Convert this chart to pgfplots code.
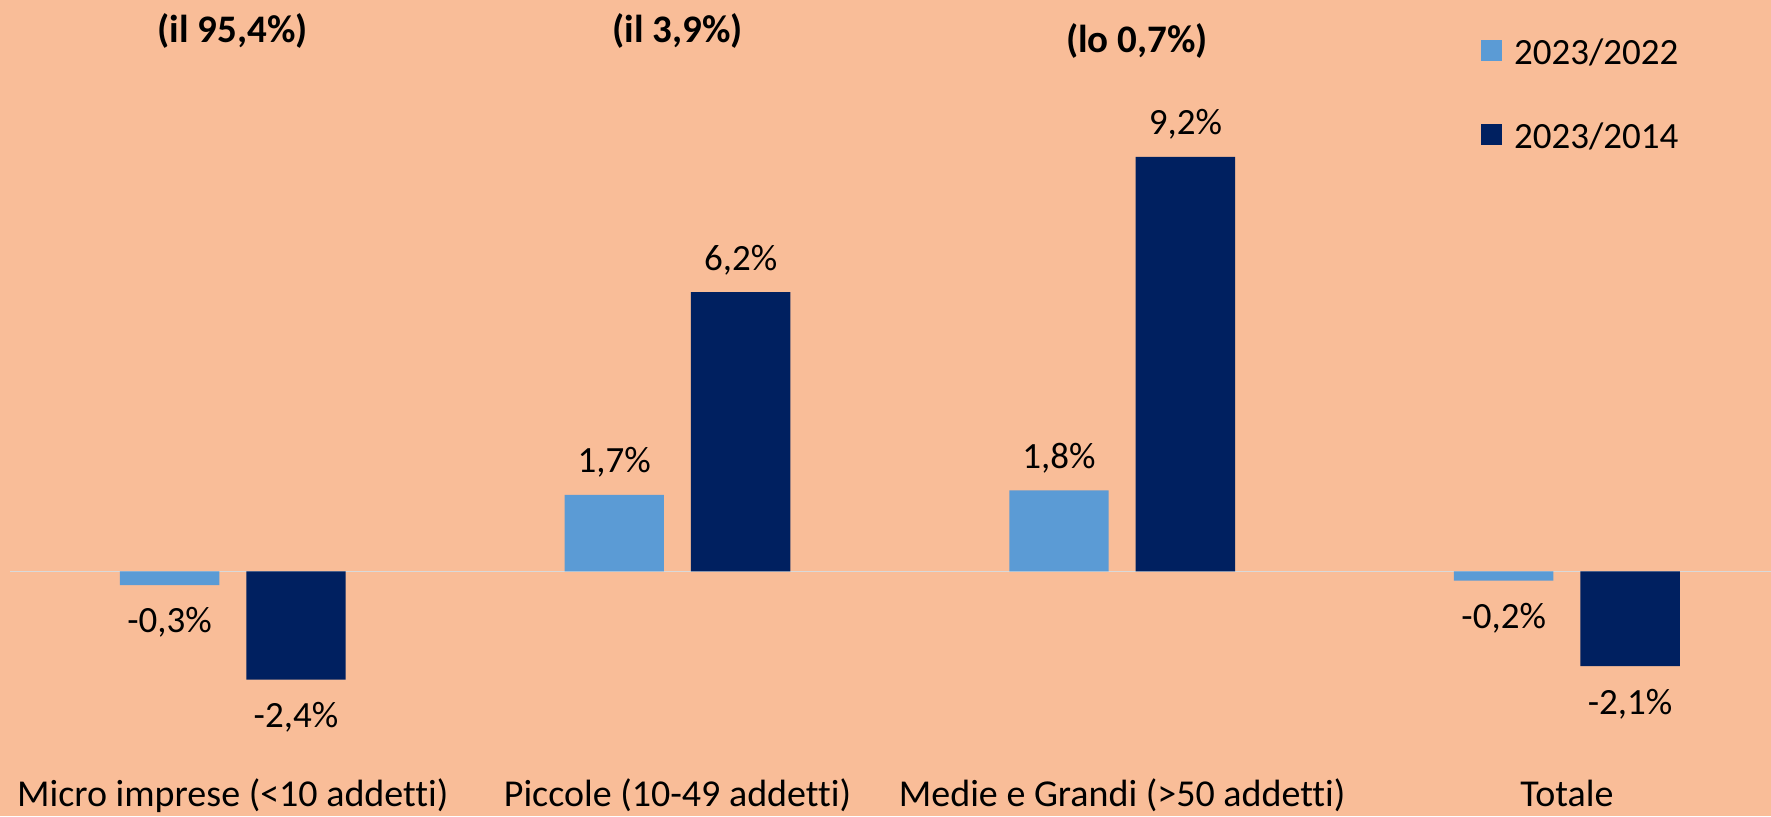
\documentclass[border=0pt]{standalone}
\usepackage{fontspec}
\setmainfont{Carlito}[Ligatures=NoCommon]
\usepackage{pgfplots}
\pgfplotsset{compat=1.18}
\definecolor{bg}{HTML}{F9BD98}
\definecolor{lb}{HTML}{5B9BD5}
\definecolor{db}{HTML}{002060}
\definecolor{zl}{HTML}{D9D9D9}
\begin{document}
\begin{tikzpicture}[x=1pt,y=1pt]
\fill[bg] (0,0) rectangle (885.5,408);
\useasboundingbox (0,0) rectangle (885.5,408);
\begin{axis}[
  at={(0pt,0pt)}, anchor=south west,
  scale only axis, width=885.5pt, height=408pt,
  xmin=-0.5234, xmax=3.459, ymin=-5.425, ymax=12.68,
  axis line style={draw=none},
  major tick length=0pt,
  ytick=\empty,
  xtick={0,1,2,3},
  xticklabels={Micro imprese (<10 addetti),Piccole (10-49 addetti),Medie e Grandi (>50 addetti),Totale},
  xticklabel style={anchor=base, yshift=5pt, font=\fontsize{19}{21}\selectfont, inner sep=0pt},
  clip=false,
  ybar,
  bar width=49.7pt,
  /pgf/number format/assume math mode=true,
  nodes near coords={\pgfmathprintnumber[fixed,fixed zerofill,precision=1,use comma,assume math mode=true]{\pgfplotspointmeta}\%},
  every node near coord/.append style={font=\fontsize{18.5}{20}\selectfont, inner xsep=0pt, inner ysep=10.75pt, text height=13pt, text depth=0pt, text=black},
  legend style={at={(rel axis cs:0.8362,0.9516)}, anchor=north west, draw=none, fill=none,
    font=\fontsize{18.5}{20}\selectfont, row sep=27.2pt, inner sep=0pt,
    nodes={inner sep=0pt, text height=12pt, text depth=3pt}},
  legend cell align=left,
  legend image code/.code={\fill[#1] (0pt,-2.8pt) rectangle (10.4pt,7.6pt); \path (16.4pt,0pt);},
]
\draw[zl, line width=0.75pt] (axis cs:-0.5,0) -- (axis cs:3.459,0);
\addplot[fill=lb, draw=none, bar shift=-31.6pt] coordinates {(0,-0.3) (1,1.7) (2,1.8) (3,-0.2)};
\addlegendentry{2023/2022}
\addplot[fill=db, draw=none, bar shift=31.6pt] coordinates {(0,-2.4) (1,6.2) (2,9.2) (3,-2.1)};
\addlegendentry{2023/2014}
\node[font=\bfseries\fontsize{19.5}{21}\selectfont] at (axis cs:0,12.0) {(il 95,4\%)};
\node[font=\bfseries\fontsize{19.5}{21}\selectfont] at (axis cs:1,12.0) {(il 3,9\%)};
\node[font=\bfseries\fontsize{19.5}{21}\selectfont] at (axis cs:2.033,11.78) {(lo 0,7\%)};
\end{axis}
\end{tikzpicture}
\end{document}
